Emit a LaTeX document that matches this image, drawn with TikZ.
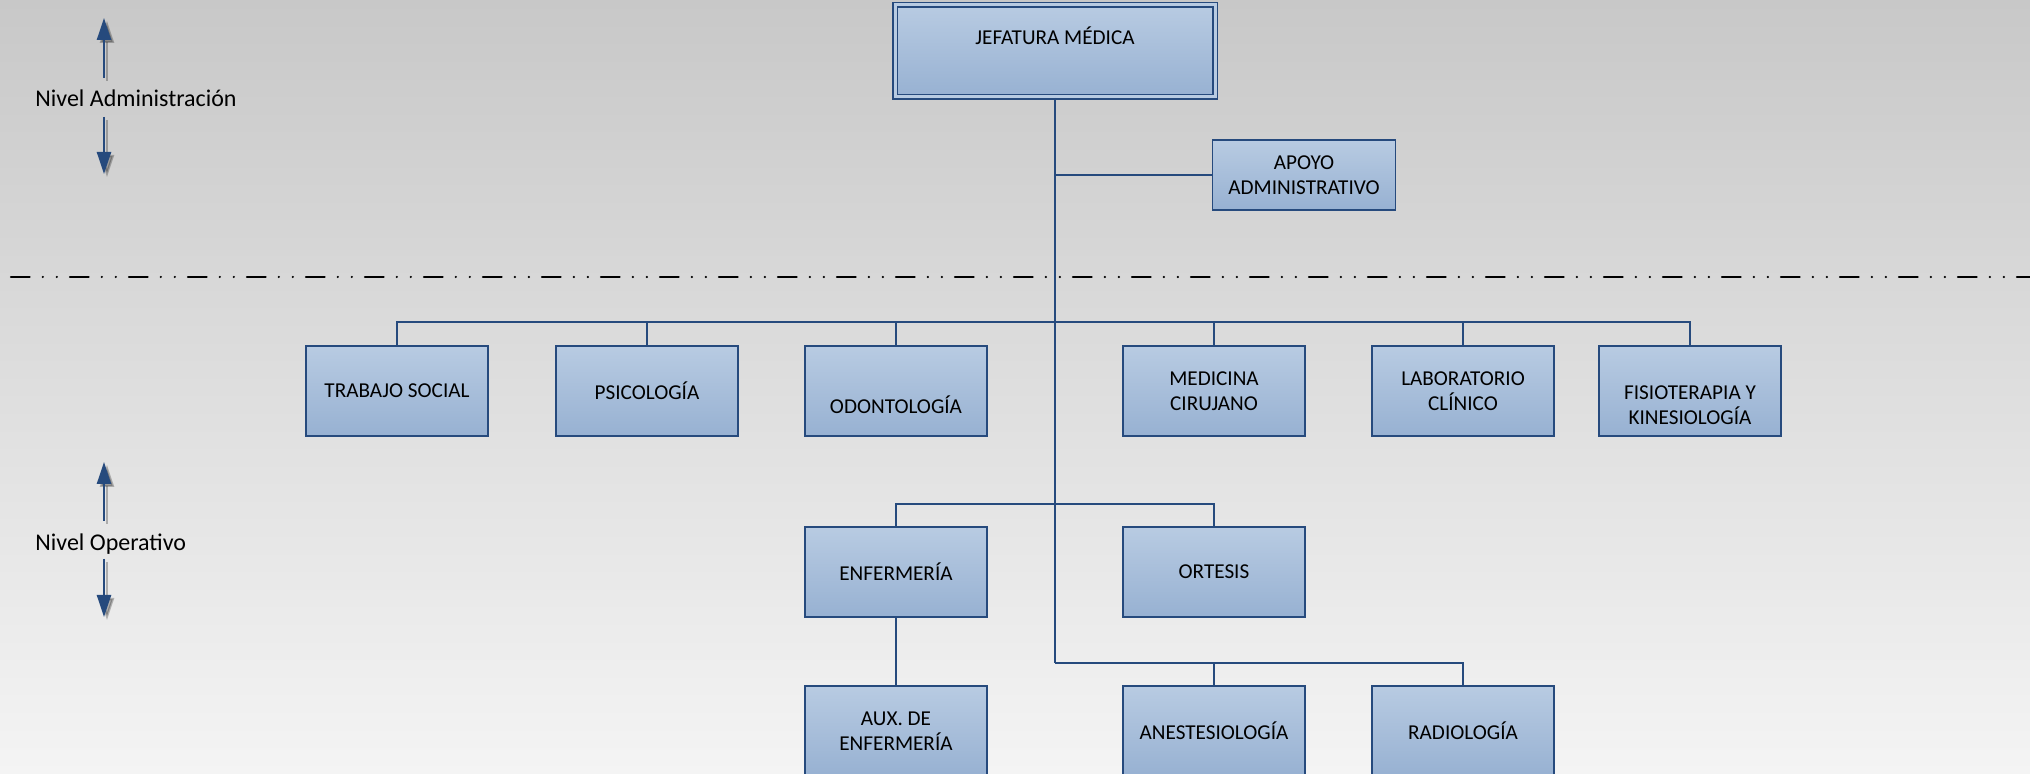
\documentclass[tikz,border=0pt]{standalone}
\usepackage{fontspec}
\setmainfont{Carlito}
\usetikzlibrary{arrows.meta,shadows}
\definecolor{fondoarriba}{RGB}{200,200,200}
\definecolor{fondoabajo}{RGB}{244,244,244}
\definecolor{cajaarriba}{RGB}{184,203,226}
\definecolor{cajaabajo}{RGB}{151,177,210}
\definecolor{linea}{RGB}{38,74,125}
\tikzset{
  cargo/.style={draw=linea, line width=.9pt, top color=cajaarriba, bottom color=cajaabajo,
    minimum width=91pt, minimum height=45pt, inner sep=2pt, align=center,
    font=\fontsize{10.6}{12.3}\selectfont},
  conector/.style={draw=linea, line width=1pt},
  etiqueta/.style={anchor=west, inner sep=0pt, font=\fontsize{12}{14}\selectfont},
  nivel/.style={draw=linea, line width=1.2pt, -{Triangle[width=7pt,length=11pt]}},
  sombra/.style={draw=black, line width=1.2pt, -{Triangle[width=7pt,length=11pt]}, opacity=.25},
}
\begin{document}
\begin{tikzpicture}[x=.5pt, y=-.5pt]
  \useasboundingbox (0,0) rectangle (2030,774);
  \shade[top color=fondoarriba, bottom color=fondoabajo] (0,0) rectangle (2030,774);

  % niveles
  \node[etiqueta] (niveladm) at (35,98) {Nivel Administración};
  \node[etiqueta] (nivelop) at (35,544) {Nivel Operativo};
  \foreach \a/\b in {78/18, 117/174, 521/462, 559/617}{
    \draw[sombra] (107,\a+3) -- (107,\b+3);
    \draw[nivel] (104,\a) -- (104,\b);
  }
  \draw[line width=1.2pt, line cap=round, dash pattern=on 9.3pt off 6.6pt on 0pt off 7pt on 0pt off 6.6pt] (11,277) -- (2030,277);

  % cargos
  \node[cargo, minimum width=160pt, minimum height=46pt, inner sep=0pt, text height=20pt, text depth=26pt,
    line width=.9pt, double=cajaarriba, double distance=1.5pt,
    drop shadow={shadow xshift=1.5pt, shadow yshift=-1.5pt, opacity=.3}] (jefatura) at (1055,51) {JEFATURA MÉDICA};
  \node[cargo, minimum width=91.5pt, minimum height=35pt] (apoyo) at (1304,175) {APOYO\\ADMINISTRATIVO};

  \node[cargo] (trabajo) at (397,391) {TRABAJO SOCIAL};
  \node[cargo] (psico) at (647,391) {PSICOLOGÍA};
  \node[cargo] (odonto) at (896,391) {\strut\\ODONTOLOGÍA};
  \node[cargo] (medicina) at (1214,391) {MEDICINA\\CIRUJANO};
  \node[cargo] (lab) at (1463,391) {LABORATORIO\\CLÍNICO};
  \node[cargo] (fisio) at (1690,391) {\strut\\FISIOTERAPIA Y\\KINESIOLOGÍA};

  \node[cargo] (enfer) at (896,572) {ENFERMERÍA};
  \node[cargo] (ortesis) at (1214,572) {ORTESIS};

  \node[cargo] (aux) at (896,731) {AUX. DE\\ENFERMERÍA};
  \node[cargo] (anest) at (1214,731) {ANESTESIOLOGÍA};
  \node[cargo] (radio) at (1463,731) {RADIOLOGÍA};

  % lineas
  \coordinate (bus1) at (1055,322);
  \coordinate (bus2) at (1055,504);
  \coordinate (bus3) at (1055,663);
  \draw[conector] (jefatura) -- (bus3);
  \draw[conector] (jefatura |- apoyo) -- (apoyo);
  \foreach \n in {trabajo,psico,odonto,medicina,lab,fisio}
    \draw[conector] (bus1) -| (\n);
  \foreach \n in {enfer,ortesis}
    \draw[conector] (bus2) -| (\n);
  \foreach \n in {anest,radio}
    \draw[conector] (bus3) -| (\n);
  \draw[conector] (enfer) -- (aux);
\end{tikzpicture}
\end{document}
